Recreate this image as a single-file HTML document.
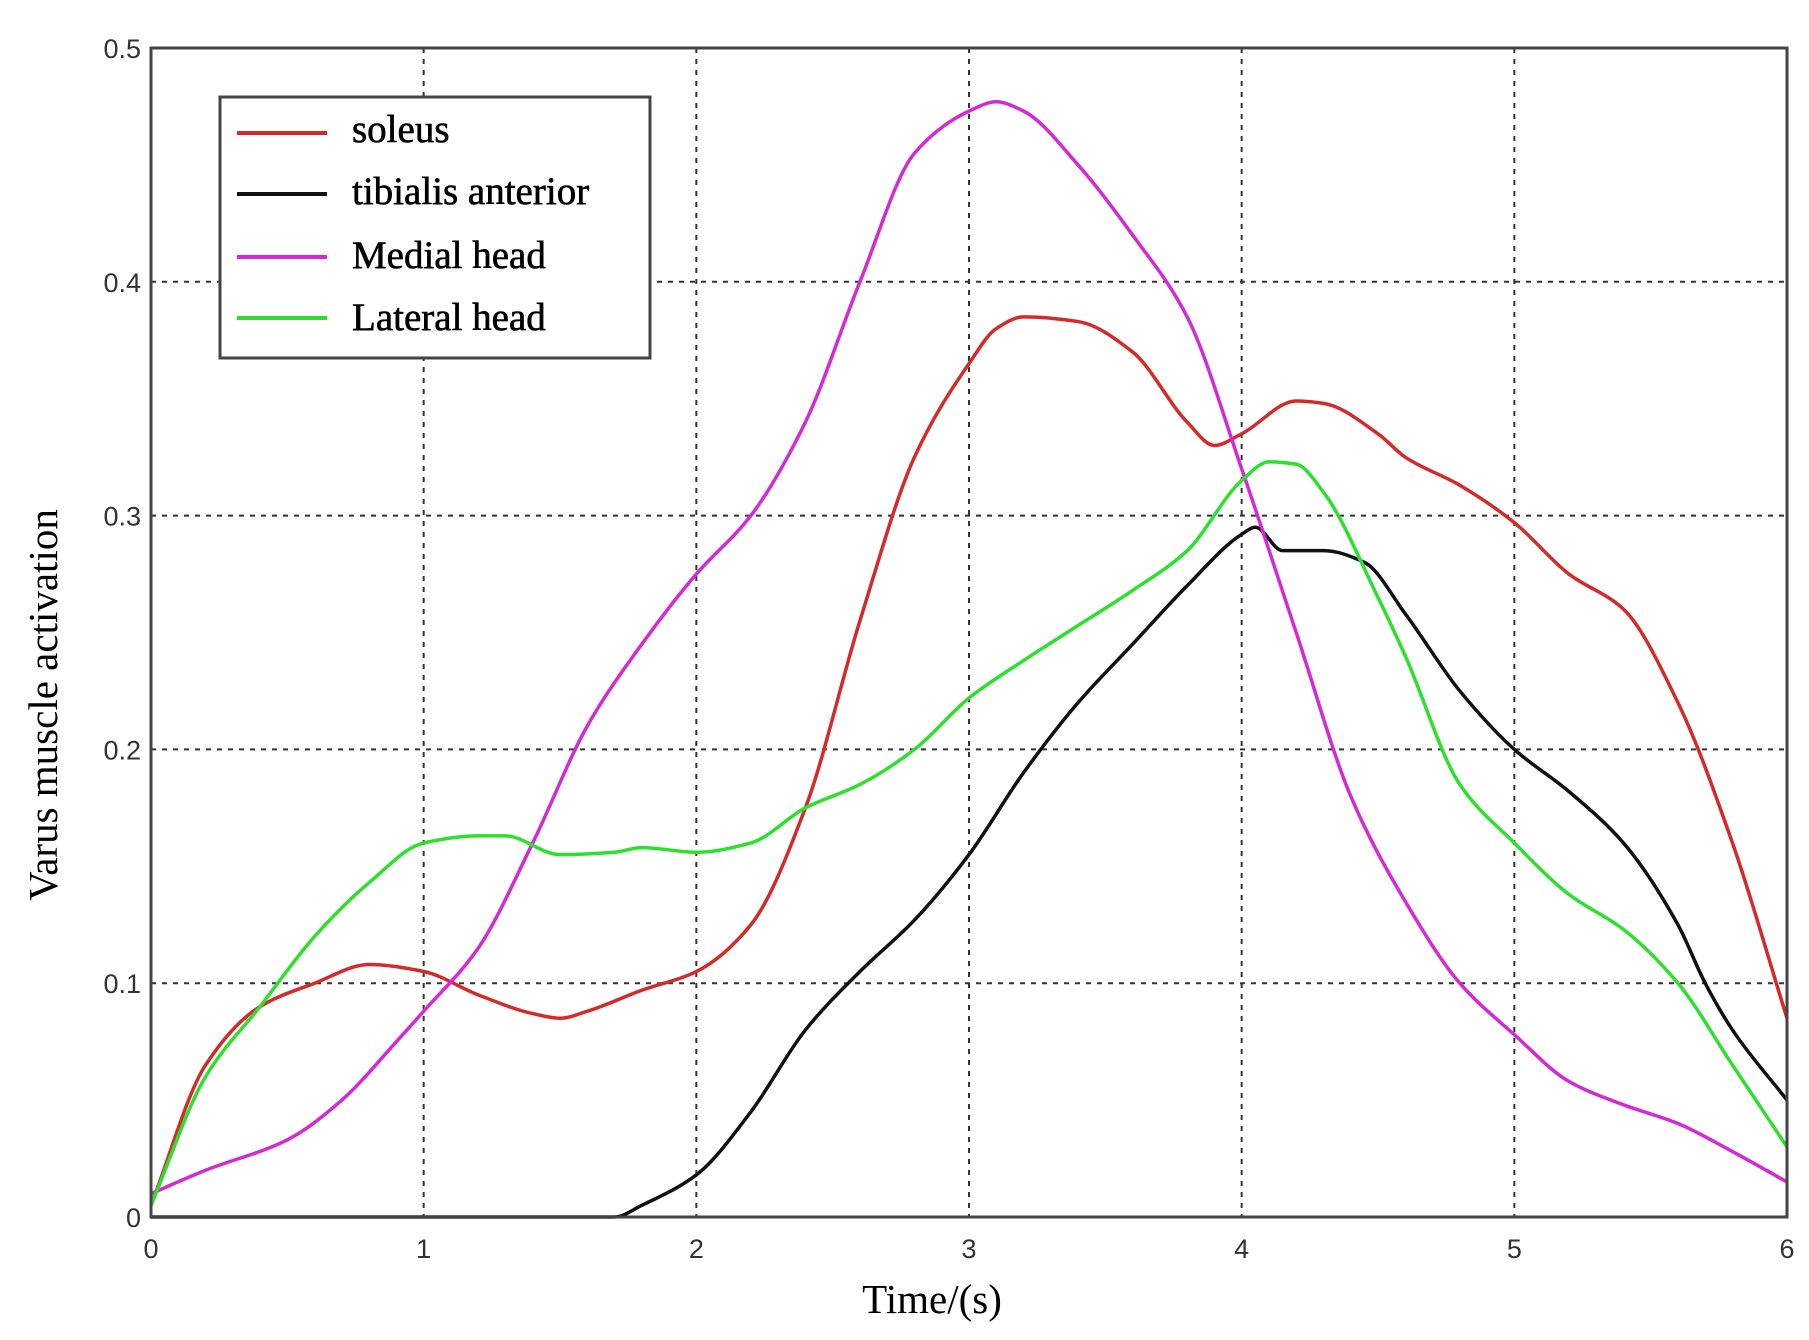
<!DOCTYPE html>
<html><head><meta charset="utf-8"><style>
html,body{margin:0;padding:0;background:#fff;}
svg{display:block;}
</style></head><body>
<svg id="chart" width="1809" height="1340" viewBox="0 0 1809 1340" xmlns="http://www.w3.org/2000/svg">
<g id="grid"></g>
<g id="series"></g>
<rect x="151" y="48" width="1636" height="1169" fill="none" stroke="#444" stroke-width="3"/>
<g id="ticks"></g>
<text x="932" y="1313" text-anchor="middle" font-family="Liberation Serif, serif" font-size="41">Time/(s)</text>
<text transform="translate(57,705) rotate(-90)" text-anchor="middle" font-family="Liberation Serif, serif" font-size="41">Varus muscle activation</text>
<g>
<rect x="220" y="97" width="430" height="261" fill="#fff" stroke="#444" stroke-width="3"/>
<line x1="237" y1="133" x2="327" y2="133" stroke="#d42a2a" stroke-width="4"/>
<text x="352" y="142" font-family="Liberation Serif, serif" font-size="39" stroke="#000" stroke-width="0.6">soleus</text>
<line x1="237" y1="194" x2="327" y2="194" stroke="#111" stroke-width="4"/>
<text x="352" y="204" font-family="Liberation Serif, serif" font-size="39" stroke="#000" stroke-width="0.6">tibialis anterior</text>
<line x1="237" y1="257" x2="327" y2="257" stroke="#d42ad4" stroke-width="4"/>
<text x="352" y="268" font-family="Liberation Serif, serif" font-size="39" stroke="#000" stroke-width="0.6">Medial head</text>
<line x1="237" y1="318" x2="327" y2="318" stroke="#2de02d" stroke-width="4"/>
<text x="352" y="330" font-family="Liberation Serif, serif" font-size="39" stroke="#000" stroke-width="0.6">Lateral head</text>
</g>
</svg>
<script>
const xTicks=[0,1,2,3,4,5,6];
const yTicks=[0,0.1,0.2,0.3,0.4,0.5];
const yTickLabels=["0","0.1","0.2","0.3","0.4","0.5"];
const soleusT=[0,0.2,0.4,0.6,0.8,1.0,1.2,1.4,1.5,1.6,1.8,2.0,2.2,2.4,2.6,2.8,3.0,3.1,3.2,3.4,3.6,3.8,3.9,4.0,4.2,4.3,4.5,4.6,4.8,5.0,5.2,5.4,5.6,5.8,6.0];
const soleusV=[0.005,0.065,0.09,0.1,0.108,0.105,0.095,0.087,0.085,0.088,0.097,0.105,0.125,0.175,0.255,0.325,0.365,0.38,0.385,0.383,0.37,0.34,0.33,0.335,0.349,0.348,0.335,0.325,0.313,0.297,0.275,0.26,0.22,0.16,0.085];
const tibT=[0,1.0,1.7,1.8,2.0,2.2,2.4,2.6,2.8,3.0,3.2,3.4,3.6,3.8,4.0,4.05,4.15,4.3,4.45,4.6,4.8,5.0,5.2,5.4,5.6,5.7,5.8,6.0];
const tibV=[0,0,0,0.005,0.018,0.045,0.08,0.105,0.127,0.155,0.19,0.22,0.245,0.27,0.292,0.295,0.285,0.285,0.28,0.258,0.225,0.2,0.182,0.16,0.125,0.1,0.08,0.05];
const medT=[0,0.2,0.5,0.7,0.9,1.0,1.2,1.4,1.6,1.8,2.0,2.2,2.4,2.6,2.8,3.0,3.1,3.2,3.4,3.6,3.8,4.0,4.2,4.4,4.6,4.8,5.0,5.2,5.4,5.6,5.8,6.0];
const medV=[0.01,0.02,0.033,0.05,0.075,0.088,0.115,0.16,0.21,0.245,0.275,0.3,0.34,0.4,0.455,0.473,0.477,0.473,0.45,0.42,0.385,0.32,0.25,0.18,0.135,0.1,0.078,0.058,0.048,0.04,0.028,0.015];
const latT=[0,0.2,0.4,0.6,0.8,1.0,1.2,1.3,1.5,1.7,1.8,2.0,2.2,2.4,2.6,2.8,3.0,3.2,3.4,3.6,3.8,4.0,4.1,4.2,4.3,4.5,4.6,4.8,5.0,5.2,5.4,5.6,5.8,6.0];
const latV=[0.005,0.06,0.09,0.12,0.143,0.16,0.163,0.163,0.155,0.156,0.158,0.156,0.16,0.175,0.185,0.2,0.222,0.238,0.253,0.268,0.285,0.315,0.323,0.322,0.31,0.265,0.24,0.185,0.16,0.138,0.123,0.1,0.065,0.03];

const X0=151,X1=1787,Y0=1217,Y1=48;
const sx=t=>X0+(t/6)*(X1-X0);
const sy=v=>Y0-(v/0.5)*(Y0-Y1);
const NS='http://www.w3.org/2000/svg';
const grid=document.getElementById('grid'),ticks=document.getElementById('ticks'),series=document.getElementById('series');
function mk(tag,attrs,parent){const e=document.createElementNS(NS,tag);for(const k in attrs)e.setAttribute(k,attrs[k]);parent.appendChild(e);return e;}
xTicks.forEach((t,i)=>{
  if(i>0&&i<xTicks.length-1){
    const g=mk('line',{x1:sx(t),x2:sx(t),y1:Y1,y2:Y0,stroke:'#333','stroke-width':2,'stroke-dasharray':'5,6'},grid);
    
    
  }
  const l=mk('text',{x:sx(t),y:1258,'text-anchor':'middle','font-family':'Liberation Sans, sans-serif','font-size':27,fill:'#333'},ticks);
  
  
  l.textContent=String(t);
});
yTicks.forEach((v,i)=>{
  if(i>0&&i<yTicks.length-1){
    const g=mk('line',{x1:X0,x2:X1,y1:sy(v),y2:sy(v),stroke:'#333','stroke-width':2,'stroke-dasharray':'5,6'},grid);
    
    
  }
  const l=mk('text',{x:141,y:sy(v)+10,'text-anchor':'end','font-family':'Liberation Sans, sans-serif','font-size':27,fill:'#333'},ticks);
  
  
  l.textContent=yTickLabels[i];
});
// monotone cubic (Fritsch-Carlson) path
function path(T,V){
  const n=T.length,x=T.map(sx),y=V.map(sy);
  const d=[],m=new Array(n);
  for(let i=0;i<n-1;i++)d.push((y[i+1]-y[i])/(x[i+1]-x[i]));
  m[0]=d[0];m[n-1]=d[n-2];
  for(let i=1;i<n-1;i++){
    if(d[i-1]*d[i]<=0)m[i]=0;
    else{const h0=x[i]-x[i-1],h1=x[i+1]-x[i];const w1=2*h1+h0,w2=h1+2*h0;m[i]=(w1+w2)/(w1/d[i-1]+w2/d[i]);}
  }
  let s='M'+x[0]+','+y[0];
  for(let i=0;i<n-1;i++){
    const h=(x[i+1]-x[i])/3;
    s+=' C'+(x[i]+h)+','+(y[i]+m[i]*h)+' '+(x[i+1]-h)+','+(y[i+1]-m[i+1]*h)+' '+x[i+1]+','+y[i+1];
  }
  return s;
}
const sl=mk('path',{d:path(soleusT,soleusV),fill:'none',stroke:'#d42a2a','stroke-width':3.5},series);


const tl=mk('path',{d:path(tibT,tibV),fill:'none',stroke:'#111','stroke-width':3.5},series);


const ml=mk('path',{d:path(medT,medV),fill:'none',stroke:'#d42ad4','stroke-width':3.5},series);


const ll=mk('path',{d:path(latT,latV),fill:'none',stroke:'#2de02d','stroke-width':3.5},series);


</script>
</body></html>
